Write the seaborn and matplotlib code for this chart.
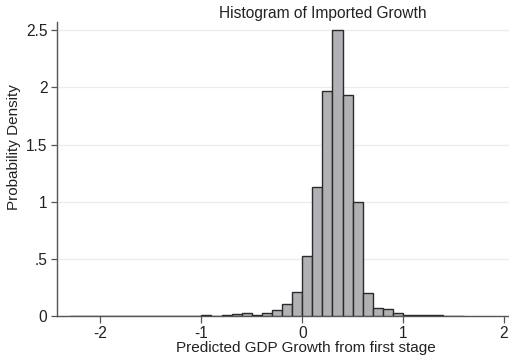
import numpy as np
import pandas as pd
import matplotlib
matplotlib.use("Agg")
import matplotlib.pyplot as plt
import seaborn as sns

# left edge of each 0.1-wide bin, and the density
bin_left = [-2.3, -2.2, -2.1, -2.0, -1.9, -1.8, -1.7, -1.6, -1.5, -1.4,
            -1.3, -1.2, -1.1, -1.0, -0.9, -0.8, -0.7, -0.6, -0.5, -0.4,
            -0.3, -0.2, -0.1, 0.0, 0.1, 0.2, 0.3, 0.4, 0.5, 0.6,
            0.7, 0.8, 0.9, 1.0, 1.1, 1.2, 1.3, 1.4, 1.5]
density = [0.005, 0, 0, 0, 0, 0, 0, 0, 0, 0.004,
           0, 0, 0.003, 0.012, 0.004, 0.010, 0.017, 0.030, 0.016, 0.028,
           0.055, 0.105, 0.21, 0.53, 1.13, 1.97, 2.50, 1.93, 1.00, 0.205,
           0.075, 0.065, 0.028, 0.010, 0.015, 0.015, 0.008, 0.007, 0.003]
bin_width = 0.1

yticks = [0, 0.5, 1, 1.5, 2, 2.5]
ytick_labels = ["0", ".5", "1", "1.5", "2", "2.5"]
xticks = [-2, -1, 0, 1, 2]
xtick_labels = ["-2", "-1", "0", "1", "2"]

df = pd.DataFrame({"mid": np.array(bin_left) + bin_width / 2, "dens": density})
edges = [round(b, 2) for b in bin_left] + [round(bin_left[-1] + bin_width, 2)]

sns.set_style("white")
plt.rcParams["font.family"] = ["Liberation Sans", "DejaVu Sans"]

fig = plt.figure(figsize=(5.1, 3.62), dpi=100)
ax = fig.add_axes([0.112, 0.126, 0.888, 0.813])

sns.histplot(data=df, x="mid", weights="dens", bins=edges, stat="count",
             color="#b1b1b5", edgecolor="#2b2b2b", linewidth=1.0, alpha=1,
             ax=ax, zorder=3)

ax.set_xlim(-2.43, 2.06)
ax.set_ylim(0, 2.57)
ax.set_yticks(yticks)
ax.set_yticklabels(ytick_labels, fontsize=11.2)
ax.set_xticks(xticks)
ax.set_xticklabels(xtick_labels, fontsize=11.2)
for y in yticks[1:]:
    ax.axhline(y, color="#ececec", lw=0.9, zorder=0)

ax.set_xlabel("Predicted GDP Growth from first stage", fontsize=11, color="#222222")
ax.xaxis.set_label_coords(0.55, -0.085)
ax.set_ylabel("Probability Density", fontsize=11, color="#222222")
ax.yaxis.set_label_coords(-0.08, 0.575)
fig.text(0.633, 0.962, "Histogram of Imported Growth", ha="center", va="center",
         fontsize=11.2, color="#222222")

for side in ["top", "right"]:
    ax.spines[side].set_visible(False)
for side in ["left", "bottom"]:
    ax.spines[side].set_color("#555555")
    ax.spines[side].set_linewidth(1.0)
ax.tick_params(axis="x", direction="out", length=5, width=0.9, color="#555555",
               labelcolor="#222222", pad=2, bottom=True)
ax.tick_params(axis="y", direction="out", length=4, width=0.9, color="#555555",
               labelcolor="#222222", pad=3, left=True)

fig.savefig("out.png", dpi=100, facecolor="white")
